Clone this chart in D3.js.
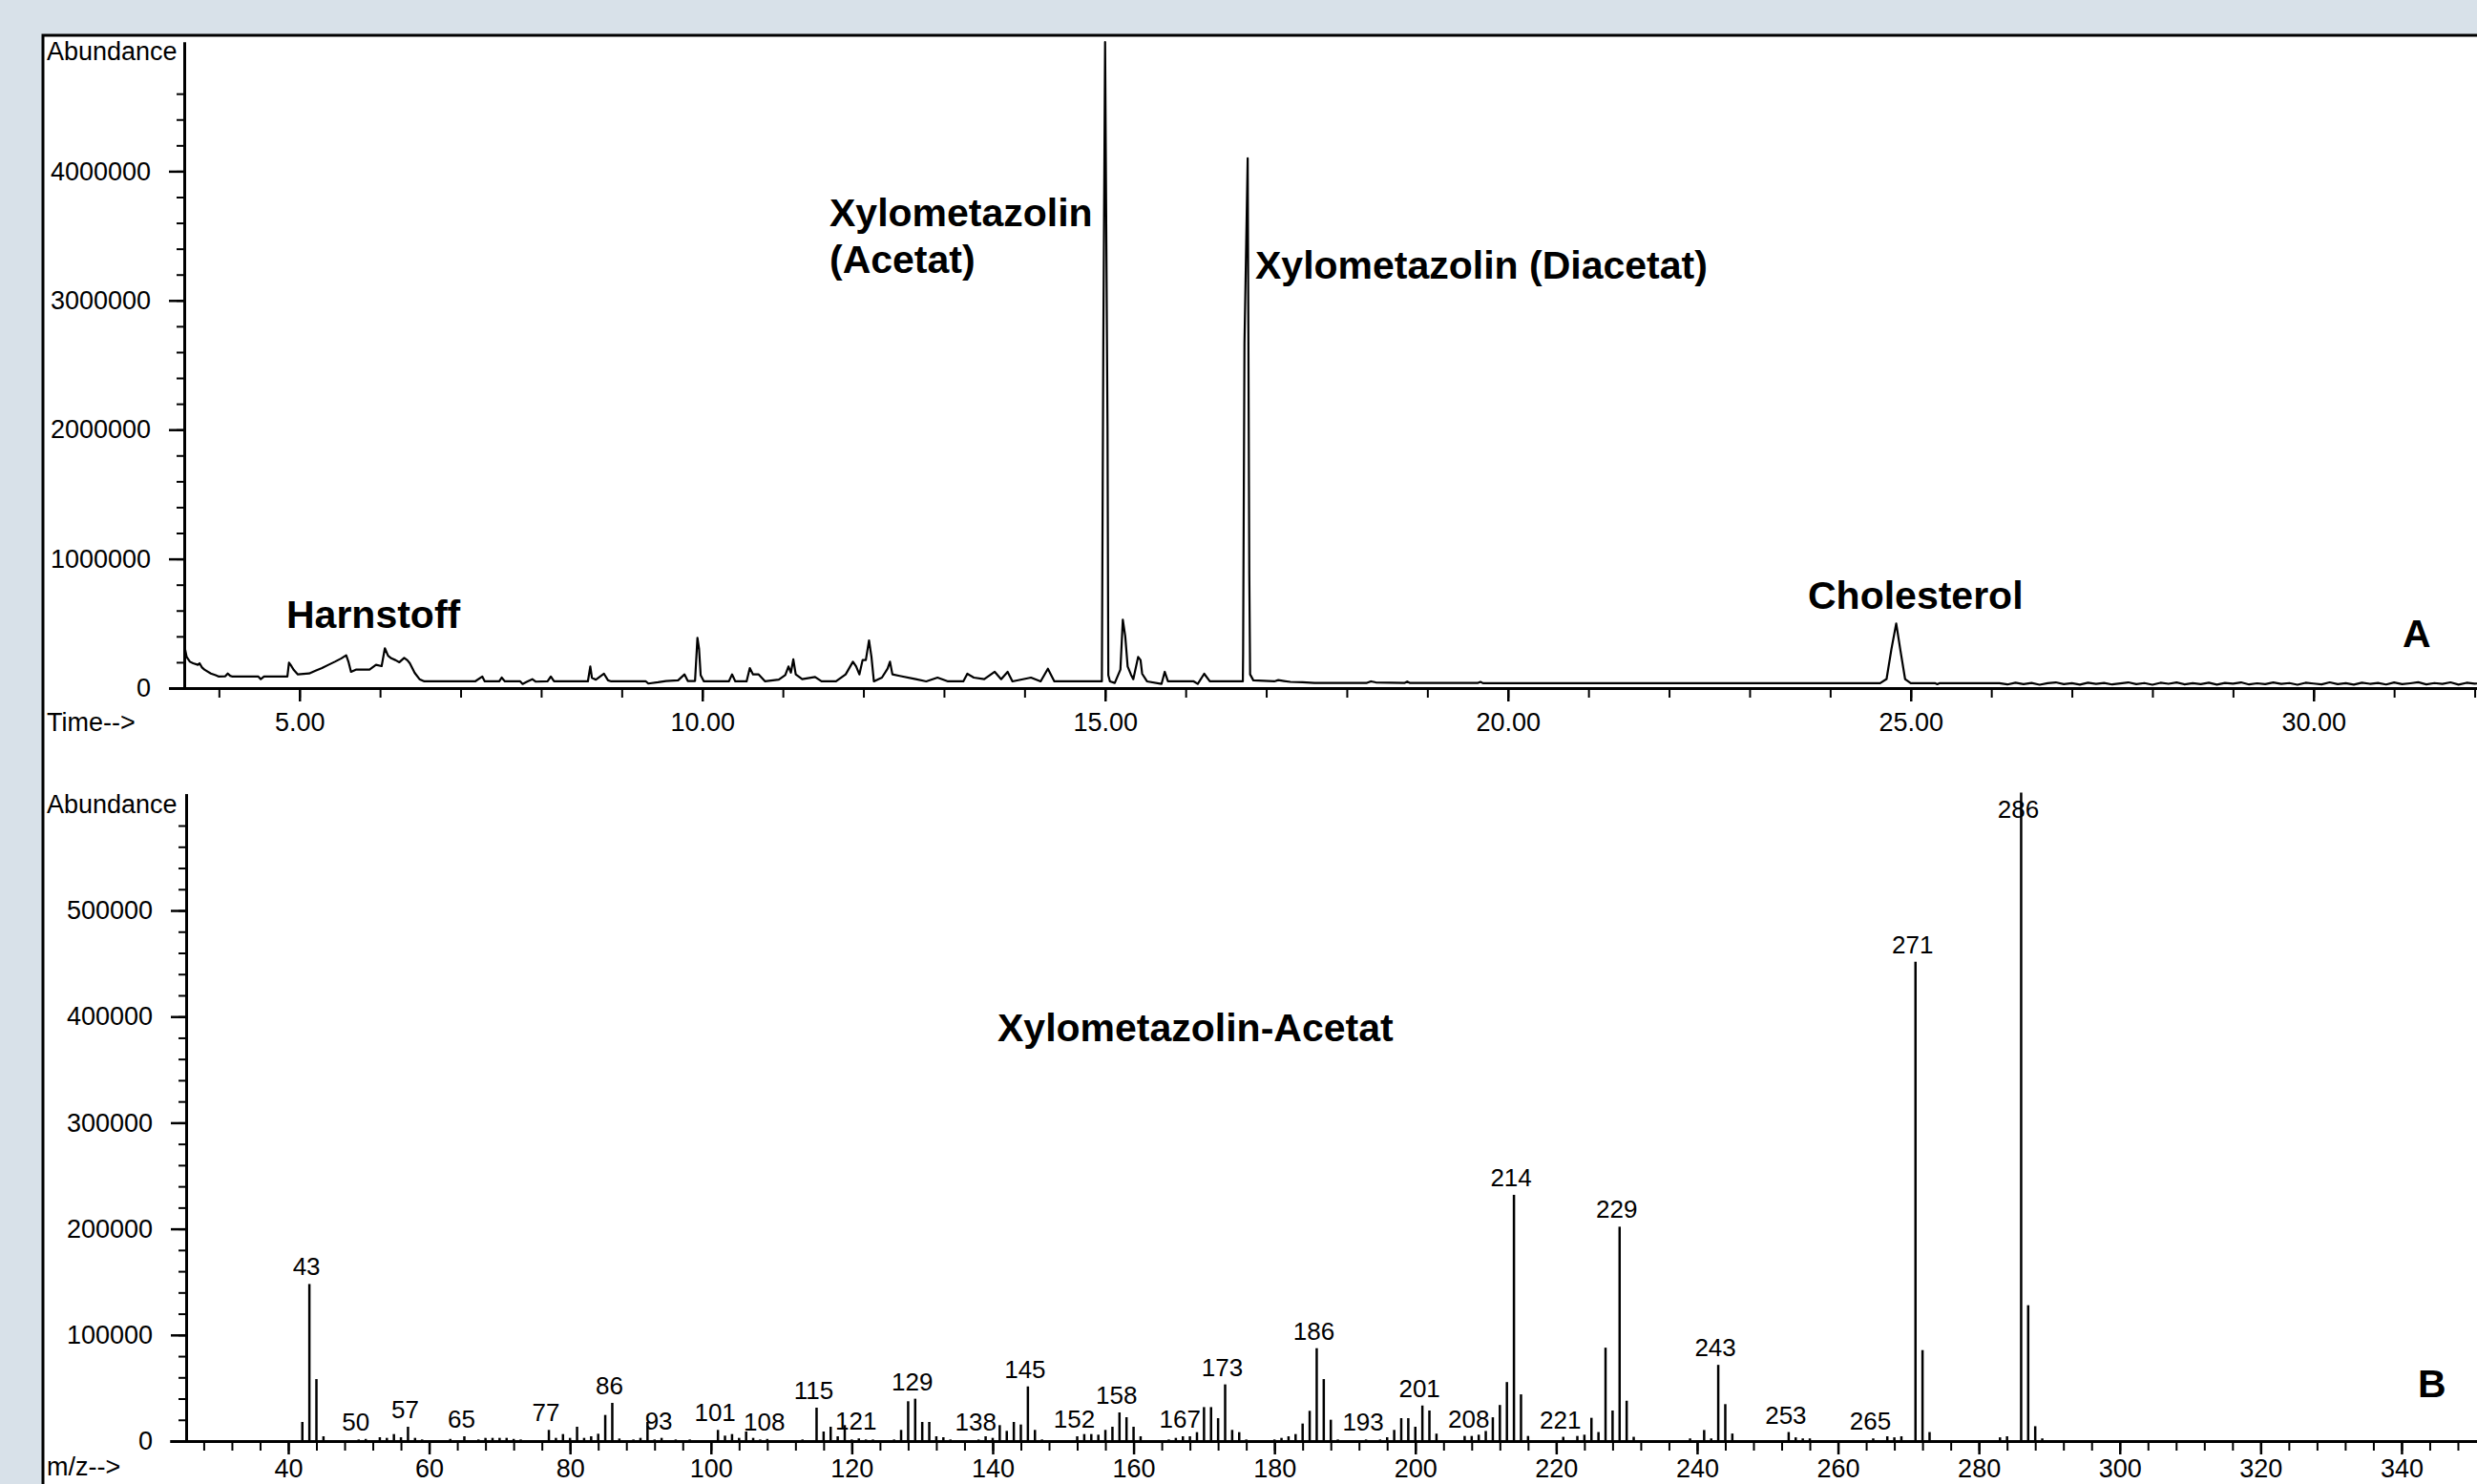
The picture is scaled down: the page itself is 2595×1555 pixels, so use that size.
<!DOCTYPE html>
<html>
<head>
<meta charset="utf-8">
<script src="https://cdn.jsdelivr.net/npm/d3@7"></script>
<style>
  html, body { margin: 0; padding: 0; background: #d8e1e9; }
  svg { display: block; }
</style>
</head>
<body>
<svg id="chart" width="2595" height="1555"></svg>
<script>
// --- A: total ion chromatogram (time in min, abundance) ---
const retentionTime = [
  3.575, 3.60, 3.64, 3.68, 3.74, 3.76, 3.79, 3.82, 3.90, 3.96,
  4.00, 4.08, 4.11, 4.14, 4.17, 4.49, 4.52, 4.56, 4.85, 4.87,
  4.90, 4.93, 4.98, 5.12, 5.20, 5.28, 5.36, 5.44, 5.52, 5.58,
  5.61, 5.64, 5.70, 5.87, 5.95, 6.02, 6.06, 6.10, 6.14, 6.19,
  6.24, 6.30, 6.34, 6.37, 6.43, 6.49, 6.55, 7.18, 7.27, 7.30,
  7.48, 7.51, 7.55, 7.74, 7.77, 7.82, 7.89, 7.93, 8.08, 8.12,
  8.16, 8.58, 8.61, 8.63, 8.68, 8.78, 8.83, 8.87, 9.30, 9.33,
  9.45, 9.55, 9.70, 9.78, 9.82, 9.91, 9.94, 9.96, 9.98, 10.02,
  10.33, 10.37, 10.41, 10.55, 10.59, 10.63, 10.70, 10.78, 10.95, 11.03,
  11.07, 11.10, 11.13, 11.16, 11.24, 11.40, 11.48, 11.66, 11.78, 11.87,
  11.91, 11.95, 11.99, 12.03, 12.07, 12.10, 12.13, 12.23, 12.30, 12.33,
  12.36, 12.45, 12.65, 12.78, 12.92, 13.05, 13.24, 13.29, 13.37, 13.50,
  13.63, 13.71, 13.79, 13.85, 14.08, 14.20, 14.29, 14.37, 14.96, 14.978,
  15.00, 15.03, 15.04, 15.06, 15.12, 15.19, 15.22, 15.25, 15.28, 15.32,
  15.35, 15.41, 15.44, 15.46, 15.52, 15.70, 15.74, 15.78, 16.10, 16.15,
  16.23, 16.30, 16.71, 16.713, 16.73, 16.77, 16.79, 16.80, 16.84, 17.10,
  17.15, 17.22, 17.30, 17.45, 17.60, 18.25, 18.30, 18.36, 18.72, 18.75,
  18.78, 19.63, 19.66, 19.69, 24.62, 24.70, 24.76, 24.82, 24.87, 24.93,
  25.00, 25.30, 25.33, 25.36, 26.10, 26.20, 26.30, 26.40, 26.50, 26.60,
  26.70, 26.80, 26.90, 27.00, 27.10, 27.20, 27.30, 27.40, 27.50, 27.60,
  27.70, 27.80, 27.90, 28.00, 28.10, 28.20, 28.30, 28.40, 28.50, 28.60,
  28.70, 28.80, 28.90, 29.00, 29.10, 29.20, 29.30, 29.40, 29.50, 29.60,
  29.70, 29.80, 29.90, 30.00, 30.10, 30.20, 30.30, 30.40, 30.50, 30.60,
  30.70, 30.80, 30.90, 31.00, 31.10, 31.20, 31.30, 31.40, 31.50, 31.60,
  31.70, 31.80, 31.90, 32.00, 32.10
];
const ticAbundance = [
  315000, 241000, 204000, 192000, 180000, 192000, 160000, 143000, 113000, 100000,
  89000, 92000, 113000, 95000, 89000, 89000, 69000, 89000, 89000, 197000,
  170000, 140000, 106000, 113000, 135000, 155000, 180000, 204000, 230000, 254000,
  200000, 126000, 143000, 143000, 180000, 170000, 308000, 250000, 230000, 217000,
  200000, 234000, 215000, 192000, 118000, 69000, 52000, 52000, 89000, 52000,
  52000, 81000, 52000, 52000, 32000, 48000, 69000, 50000, 52000, 89000,
  52000, 52000, 167000, 80000, 65000, 111000, 60000, 52000, 52000, 35000,
  45000, 55000, 60000, 106000, 55000, 55000, 389000, 303000, 100000, 52000,
  52000, 106000, 52000, 52000, 155000, 106000, 106000, 52000, 65000, 100000,
  167000, 120000, 222000, 106000, 69000, 86000, 52000, 52000, 106000, 204000,
  167000, 106000, 217000, 217000, 369000, 241000, 52000, 81000, 150000, 204000,
  106000, 94000, 69000, 52000, 81000, 52000, 52000, 111000, 81000, 69000,
  126000, 69000, 126000, 52000, 81000, 52000, 150000, 52000, 52000, 2670000,
  5000000, 2030000, 100000, 52000, 40000, 143000, 529000, 401000, 167000, 106000,
  69000, 241000, 217000, 111000, 52000, 32000, 126000, 52000, 52000, 32000,
  111000, 52000, 52000, 259000, 2670000, 4100000, 880000, 106000, 60000, 52000,
  62000, 55000, 48000, 45000, 40000, 40000, 52000, 44000, 40000, 50000,
  40000, 40000, 48000, 38000, 38000, 70000, 300000, 500000, 300000, 70000,
  38000, 38000, 30000, 38000, 38000, 28000, 42000, 30000, 40000, 26000,
  38000, 44000, 30000, 38000, 27000, 42000, 32000, 40000, 28000, 36000,
  44000, 30000, 39000, 26000, 41000, 33000, 43000, 29000, 38000, 31000,
  42000, 27000, 40000, 34000, 44000, 28000, 37000, 30000, 43000, 32000,
  39000, 26000, 41000, 35000, 29000, 44000, 31000, 38000, 27000, 42000,
  33000, 40000, 28000, 43000, 30000, 37000, 45000, 29000, 39000, 32000,
  44000, 27000, 41000, 34000, 38000
];
const timeTicks = [5, 10, 15, 20, 25, 30];
const abundanceTicksA = [0, 1000000, 2000000, 3000000, 4000000];

// --- B: mass spectrum of Xylometazolin-Acetat ---
const massToCharge = [
  42, 43, 44, 45, 50, 51, 53, 54, 55, 56, 57, 58, 59, 63, 65, 67, 68, 69, 70, 71,
  72, 73, 77, 78, 79, 80, 81, 82, 83, 84, 85, 86, 87, 89, 90, 91, 92, 93, 95, 97,
  101, 102, 103, 104, 105, 106, 107, 108, 113, 115, 116, 117, 118, 119, 120, 121, 122, 123, 126, 127,
  128, 129, 130, 131, 132, 133, 134, 138, 139, 140, 141, 142, 143, 144, 145, 146, 147, 152, 153, 154,
  155, 156, 157, 158, 159, 160, 161, 165, 166, 167, 168, 169, 170, 171, 172, 173, 174, 175, 176, 180,
  181, 182, 183, 184, 185, 186, 187, 188, 189, 193, 195, 196, 197, 198, 199, 200, 201, 202, 203, 207,
  208, 209, 210, 211, 212, 213, 214, 215, 216, 221, 223, 224, 225, 226, 227, 228, 229, 230, 231, 239,
  241, 242, 243, 244, 245, 253, 254, 255, 256, 265, 267, 268, 269, 271, 272, 273, 283, 284, 286, 287,
  288, 289
];
const ionAbundance = [
  18000, 148000, 58400, 4500, 1500, 2000, 3600, 3000, 6600, 3600, 13500, 3000, 1500, 2000, 4500, 1500, 3000, 3000, 3000, 3000,
  2000, 1500, 10500, 3000, 6600, 3000, 13500, 3000, 4500, 6900, 24600, 36000, 2400, 1500, 3000, 18000, 1500, 3000, 1500, 1500,
  10500, 5100, 6600, 3000, 9000, 3000, 1500, 2000, 1500, 31500, 9000, 13500, 4500, 15000, 1500, 2500, 1500, 1500, 1500, 10500,
  37500, 39900, 18000, 18000, 4500, 3600, 1500, 1500, 4500, 3000, 15000, 9600, 18000, 15600, 51500, 10500, 1500, 4500, 6600, 6600,
  6000, 10500, 13500, 27000, 22500, 13500, 4500, 1500, 3000, 4500, 4500, 8400, 32000, 32000, 21600, 53400, 10500, 8400, 1500, 1500,
  3000, 4500, 6600, 16500, 28500, 87500, 58400, 20100, 1500, 1500, 1500, 3600, 10500, 21600, 21600, 13500, 33500, 28800, 7000, 4800,
  4800, 6000, 9500, 22400, 34000, 55600, 232000, 44000, 4800, 4000, 4800, 6000, 21900, 8500, 88000, 28800, 202000, 38000, 4000, 2500,
  10400, 2500, 71800, 34800, 7100, 8500, 3500, 2500, 2500, 2500, 4500, 3500, 4500, 451700, 85700, 8500, 3500, 4500, 611000, 128000,
  14000, 2500
];
const labelledMasses = [43, 50, 57, 65, 77, 86, 93, 101, 108, 115, 121, 129, 138, 145, 152, 158,
  167, 173, 186, 193, 201, 208, 214, 221, 229, 243, 253, 265, 271, 286];
const mzTicks = [40, 60, 80, 100, 120, 140, 160, 180, 200, 220, 240, 260, 280, 300, 320, 340];
const abundanceTicksB = [0, 100000, 200000, 300000, 400000, 500000];

const FONT = '"Liberation Sans", Arial, Helvetica, sans-serif';
const svg = d3.select("#chart");

// white plot sheet
svg.append("rect")
  .attr("x", 45).attr("y", 37)
  .attr("width", 2600).attr("height", 1600)
  .attr("fill", "#fff").attr("stroke", "#000").attr("stroke-width", 3);

function styleAxis(g, minor) {
  g.attr("font-family", FONT).attr("font-size", 27);
  g.select(".domain").attr("stroke-width", 3);
  g.selectAll(".tick line").attr("stroke-width", minor ? 2 : 2.5);
  g.selectAll(".tick text").attr("fill", "#000");
}

function plainText(x, y, txt, size, bold, anchor) {
  svg.append("text")
    .attr("x", x).attr("y", y)
    .attr("font-family", FONT)
    .attr("font-size", size)
    .attr("font-weight", bold ? "bold" : "normal")
    .attr("text-anchor", anchor || "start")
    .attr("fill", "#000")
    .text(txt);
}

// ===== panel A =====
const xA = d3.scaleLinear().domain([3.38, 32.1]).range([177, 2601]);
const yA = d3.scaleLinear().domain([0, 5000000]).range([721, 44]);

svg.append("g").attr("transform", "translate(193,0)")
  .call(d3.axisLeft(yA).tickValues(d3.range(0, 4700000, 200000)).tickSize(8).tickSizeOuter(0).tickFormat(""))
  .call(g => styleAxis(g, true));
svg.append("g").attr("transform", "translate(193,0)")
  .call(d3.axisLeft(yA).tickValues(abundanceTicksA).tickSize(16).tickPadding(19).tickSizeOuter(0).tickFormat(d3.format("d")))
  .call(g => styleAxis(g, false));

svg.append("g").attr("transform", "translate(0,721)")
  .call(d3.axisBottom(xA).tickValues(d3.range(4, 33, 1)).tickSize(10).tickSizeOuter(0).tickFormat(""))
  .call(g => styleAxis(g, true));
svg.append("g").attr("transform", "translate(0,721)")
  .call(d3.axisBottom(xA).tickValues(timeTicks).tickSize(14).tickPadding(12).tickSizeOuter(0).tickFormat(d3.format(".2f")))
  .call(g => styleAxis(g, false));

const chrom = retentionTime.map((t, i) => [t, ticAbundance[i]]);
svg.append("path")
  .datum(chrom)
  .attr("d", d3.line().x(d => xA(d[0])).y(d => yA(d[1])))
  .attr("fill", "none")
  .attr("stroke", "#000")
  .attr("stroke-width", 2.2)
  .attr("stroke-linejoin", "round");

plainText(49, 63, "Abundance", 27);
plainText(49, 766, "Time-->", 27);
plainText(300, 658, "Harnstoff", 41, true);
plainText(869, 237, "Xylometazolin", 41, true);
plainText(869, 286, "(Acetat)", 41, true);
plainText(1315, 292, "Xylometazolin (Diacetat)", 41, true);
plainText(1894, 638, "Cholesterol", 41, true);
plainText(2517, 678, "A", 41, true);

// ===== panel B =====
const xB = d3.scaleLinear().domain([23.2, 352]).range([178, 2604.5]);
const yB = d3.scaleLinear().domain([0, 610000]).range([1510, 831.7]);

svg.append("g").attr("transform", "translate(195,0)")
  .call(d3.axisLeft(yB).tickValues(d3.range(0, 590000, 20000)).tickSize(8).tickSizeOuter(0).tickFormat(""))
  .call(g => styleAxis(g, true));
svg.append("g").attr("transform", "translate(195,0)")
  .call(d3.axisLeft(yB).tickValues(abundanceTicksB).tickSize(16).tickPadding(19).tickSizeOuter(0).tickFormat(d3.format("d")))
  .call(g => styleAxis(g, false));

svg.append("g").attr("transform", "translate(0,1510)")
  .call(d3.axisBottom(xB).tickValues(d3.range(28, 352, 4)).tickSize(10).tickSizeOuter(0).tickFormat(""))
  .call(g => styleAxis(g, true));
// m/z labels sit right at the bottom edge, as in the original screenshot
svg.append("g").attr("transform", "translate(0,1510)")
  .call(d3.axisBottom(xB).tickValues(mzTicks).tickSize(14).tickPadding(5).tickSizeOuter(0).tickFormat(d3.format("d")))
  .call(g => styleAxis(g, false));

const spectrum = massToCharge.map((m, i) => ({ m: m, v: ionAbundance[i] }));
svg.append("g").selectAll("line")
  .data(spectrum)
  .join("line")
  .attr("x1", d => xB(d.m)).attr("x2", d => xB(d.m))
  .attr("y1", yB(0)).attr("y2", d => yB(d.v))
  .attr("stroke", "#000")
  .attr("stroke-width", 2.5);

svg.append("g").selectAll("text")
  .data(spectrum.filter(d => labelledMasses.includes(d.m)))
  .join("text")
  .attr("x", d => xB(d.m) - 3)
  .attr("y", d => Math.max(yB(d.v) - 9, 857))
  .attr("font-family", FONT)
  .attr("font-size", 26)
  .attr("text-anchor", "middle")
  .attr("fill", "#000")
  .text(d => d.m);

plainText(49, 852, "Abundance", 27);
plainText(49, 1546, "m/z-->", 27);
plainText(1045, 1091, "Xylometazolin-Acetat", 41, true);
plainText(2533, 1464, "B", 41, true);
</script>
</body>
</html>
